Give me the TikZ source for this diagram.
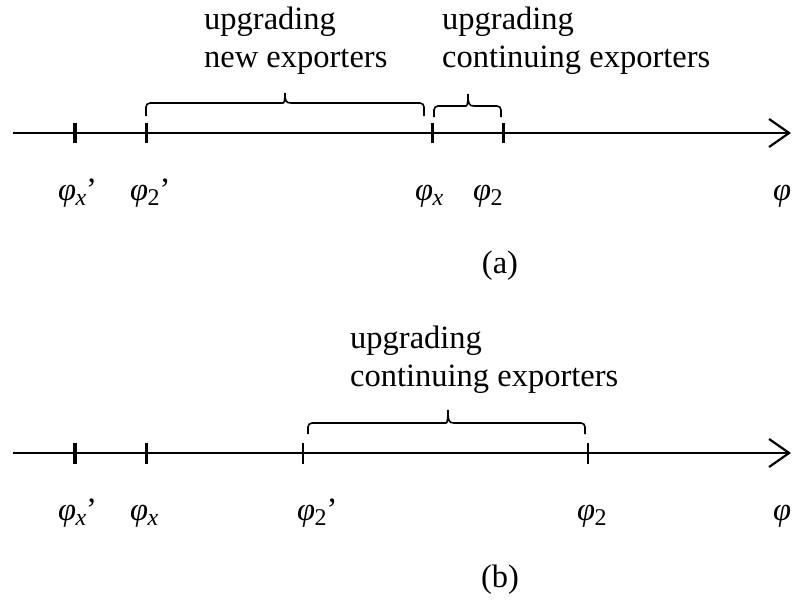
\documentclass[tikz,border=0pt]{standalone}
\usepackage{fontspec}
\setmainfont{Liberation Serif}
\usetikzlibrary{arrows.meta}
\tikzset{
  axisline/.style={line width=2.4pt,-{Straight Barb[length=20pt,width=28pt,line width=2.2pt]}},
  thicktick/.style={line width=4pt},
  midtick/.style={line width=3pt},
  thintick/.style={line width=2pt},
  bracepath/.style={line width=1.6pt,rounded corners=4pt},
  lbl/.style={inner sep=0pt,anchor=base west,font=\fontsize{32.5}{38}\selectfont},
  txt/.style={inner sep=0pt,anchor=base west,align=left,font=\fontsize{32.5}{38}\selectfont},
}
\newcommand{\phx}{{\itshape φ\kern-0.02em\raisebox{-0.18em}{\fontsize{24}{24}\selectfont x}}}
\newcommand{\pht}{{\itshape φ\kern-0.02em\raisebox{-0.18em}{\fontsize{24}{24}\selectfont\upshape 2}}}
\begin{document}
\begin{tikzpicture}[x=1pt,y=-1pt]
\useasboundingbox (0,0) rectangle (799,599);
% ---------- (a) ----------
\coordinate (a0) at (13,133);
\coordinate (a9) at (791,133);
\draw[axisline] (a0) -- (a9);
\coordinate (ta1) at (75,133);
\coordinate (ta2) at (146,133);
\coordinate (ta3) at (432,133);
\coordinate (ta4) at (503,133);
\draw[thicktick] ([yshift=-10pt]ta1) -- ([yshift=10pt]ta1);
\draw[midtick] ([yshift=-10pt]ta2) -- ([yshift=10pt]ta2);
\draw[midtick] ([yshift=-10pt]ta3) -- ([yshift=10pt]ta3);
\draw[midtick] ([yshift=-10pt]ta4) -- ([yshift=10pt]ta4);
% braces (a)
\draw[bracepath] (146,116) -- (146,103) -- (279,103) [sharp corners] .. controls (284,103) and (285,101) .. (285,93) .. controls (285,101) and (286,103) .. (291,103) [rounded corners=4pt] -- (424,103) -- (424,116);
\draw[bracepath] (434,117) -- (434,106) -- (462,106) [sharp corners] .. controls (467,106) and (468,104) .. (468,94) .. controls (468,104) and (469,106) .. (474,106) [rounded corners=4pt] -- (501,106) -- (501,117);
\node[txt] (ua1) at (204,68) {upgrading\\new exporters};
\node[txt] (ua2) at (442,68) {upgrading\\continuing exporters};
\node[lbl] (la1) at (58,200) {\phx’};
\node[lbl] (la2) at (130,200) {\pht’};
\node[lbl] (la3) at (415,200) {\phx};
\node[lbl] (la4) at (473,200) {\pht};
\node[lbl] (la5) at (773,200) {\itshape φ};
\node[inner sep=0pt,anchor=base,font=\fontsize{32.5}{38}\selectfont] (capa) at (500,273) {(a)};
% ---------- (b) ----------
\coordinate (b0) at (13,453);
\coordinate (b9) at (791,453);
\draw[axisline] (b0) -- (b9);
\coordinate (tb1) at (75,453);
\coordinate (tb2) at (146,453);
\coordinate (tb3) at (303,453);
\coordinate (tb4) at (588,453);
\draw[thicktick] ([yshift=-11pt]tb1) -- ([yshift=10pt]tb1);
\draw[midtick] ([yshift=-11pt]tb2) -- ([yshift=10pt]tb2);
\draw[thintick] ([yshift=-11pt]tb3) -- ([yshift=10pt]tb3);
\draw[thintick] ([yshift=-11pt]tb4) -- ([yshift=10pt]tb4);
\draw[bracepath] (308,434) -- (308,423) -- (442,423) [sharp corners] .. controls (447,423) and (448,421) .. (448,410) .. controls (448,421) and (449,423) .. (454,423) [rounded corners=4pt] -- (585,423) -- (585,434);
\node[txt] (ub) at (350,386) {upgrading\\continuing exporters};
\node[lbl] (lb1) at (58,520) {\phx’};
\node[lbl] (lb2) at (130,520) {\phx};
\node[lbl] (lb3) at (297,520) {\pht’};
\node[lbl] (lb4) at (577,520) {\pht};
\node[lbl] (lb5) at (773,520) {\itshape φ};
\node[inner sep=0pt,anchor=base,font=\fontsize{32.5}{38}\selectfont] (capb) at (500,587) {(b)};
\end{tikzpicture}
\end{document}
